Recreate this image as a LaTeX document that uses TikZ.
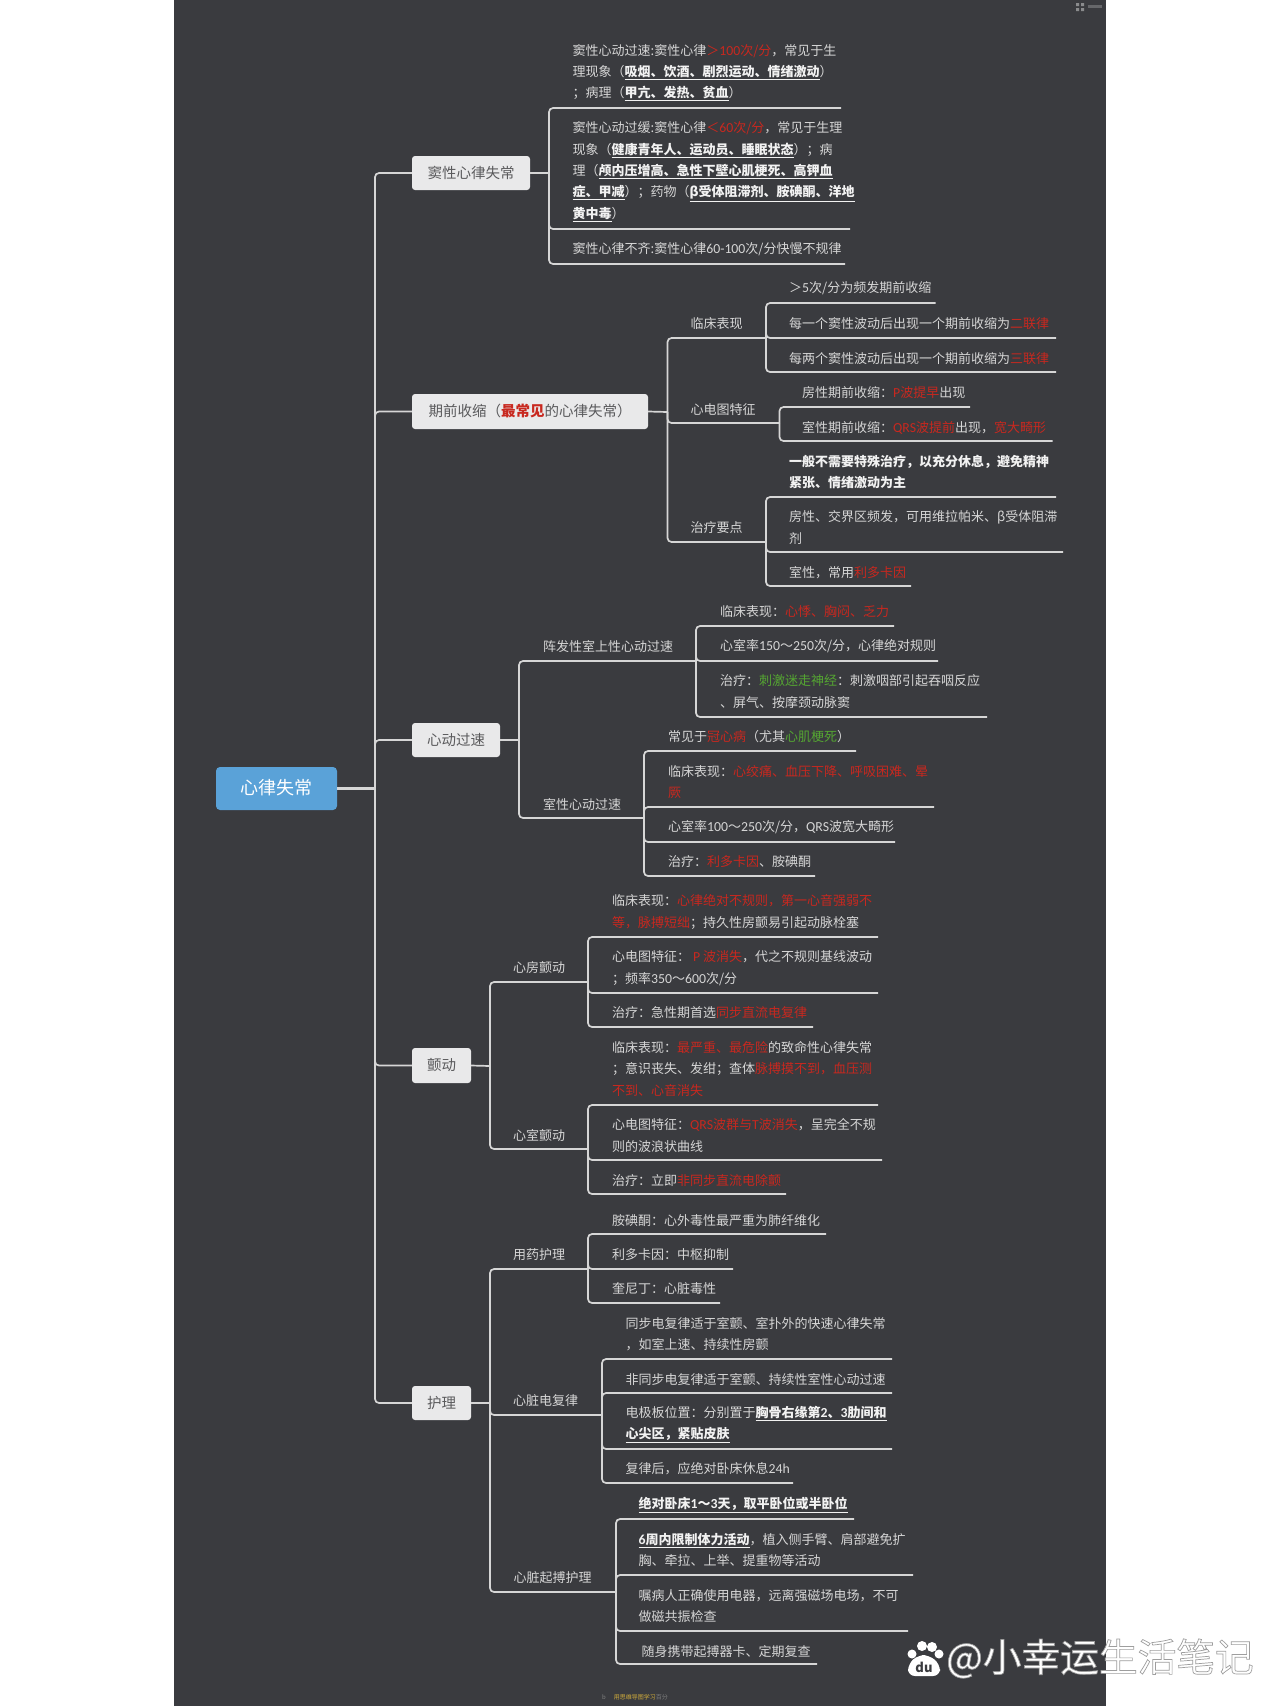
\documentclass[tikz,border=0pt]{standalone}
\usepackage{fontspec}
\setmainfont{Noto Sans CJK SC}
\newfontfamily\latnarrow{Carlito}[Scale=1.06]
\definecolor{bgdark}{HTML}{3A3B3F}
\definecolor{linec}{HTML}{D6D6D6}
\definecolor{txtc}{HTML}{D6D6D6}
\definecolor{boldc}{HTML}{F2F2F2}
\definecolor{redc}{HTML}{C8281F}
\definecolor{greenc}{HTML}{55A632}
\definecolor{topicc}{HTML}{E9E9EA}
\definecolor{topict}{HTML}{5A5A5C}
\definecolor{rootc}{HTML}{5AA2D8}
\definecolor{yelc}{HTML}{D0AC3C}
\definecolor{marka}{HTML}{8A8B8D}
\definecolor{markb}{HTML}{66676A}
\newcommand{\rd}[1]{\textcolor{redc}{#1}}
\newcommand{\gn}[1]{\textcolor{greenc}{#1}}
\newcommand{\bd}[1]{\textcolor{boldc}{\textbf{#1}}}
\newcommand{\bu}[1]{\textcolor{boldc}{\underline{\textbf{#1}}}}
\newcommand{\nm}[1]{{\latnarrow #1}}
\newcommand{\lift}[1]{\raisebox{1.5pt}{#1}}
\tikzset{
  txt/.style={anchor=west,inner sep=0pt,align=left,text=txtc,yshift=-0.6pt,font=\fontsize{13}{21.4}\selectfont},
  topic/.style={fill=topicc,rounded corners=3pt,inner sep=0pt,text=topict,font=\fontsize{14.5}{18}\selectfont},
  rootnode/.style={fill=rootc,rounded corners=4pt,inner sep=0pt,text=white,font=\fontsize{18}{22}\selectfont},
  conn/.style={draw=linec,line width=1.7pt,rounded corners=4pt},
  thick conn/.style={draw=linec,line width=2.8pt}
}
% name, junction, x, y of text, y of line, end x of line, text
\newcommand{\leaf}[7]{%
  \node[txt] (#1) at (#3,#4) {#7};
  \coordinate (#1-end) at (#6,#5);
  \draw[conn] (#2) |- (#1-end);
}
\begin{document}
\begin{tikzpicture}[x=1pt,y=-1pt]
\useasboundingbox (0,0) rectangle (1280,1706);
\fill[white] (0,0) rectangle (1280,1706);
\fill[bgdark] (174,0) rectangle (1106,1706);

% top right marks
\fill[marka] (1076,3) rectangle (1079,6) (1081,3) rectangle (1084,6) (1076,8) rectangle (1079,11) (1081,8) rectangle (1084,11);
\fill[markb] (1088,5) rectangle (1102,8);

% root and trunk
\node[rootnode,minimum width=121pt,minimum height=43pt] (root) at (276.5,788.5) {\raisebox{3.5pt}{心律失常}};
\coordinate (trunk) at (375,788.5);
\draw[thick conn] (root.east) -- (trunk);

\node[topic,minimum width=118pt,minimum height=34pt] (t1) at (471,173) {\lift{窦性心律失常}};
\node[topic,minimum width=236pt,minimum height=35pt] (t2) at (530,411.5) {\lift{期前收缩（\rd{\textbf{最常见}}的心律失常）}};
\node[topic,minimum width=88pt,minimum height=34pt] (t3) at (456,740) {\lift{心动过速}};
\node[topic,minimum width=59pt,minimum height=35pt] (t4) at (441.5,1065.5) {\lift{颤动}};
\node[topic,minimum width=59pt,minimum height=34pt] (t5) at (441.5,1403) {\lift{护理}};
\foreach \t in {t1,t2,t3,t4,t5} \draw[conn] (trunk) |- (\t.west);

% section 1
\coordinate (j1) at (549,173);
\draw[conn] (t1.east) -- (j1);
\leaf{a1}{j1}{572.5}{72}{108}{841}{窦性心动过速:窦性心律\rd{＞\nm{100}次/分}，常见于生\\理现象（\bu{吸烟、饮酒、剧烈运动、情绪激动}）\\；病理（\bu{甲亢、发热、贫血}）}
\leaf{a2}{j1}{572.5}{171}{229}{850}{窦性心动过缓:窦性心律\rd{＜\nm{60}次/分}，常见于生理\\现象（\bu{健康青年人、运动员、睡眠状态}）；病\\理（\bu{颅内压增高、急性下壁心肌梗死、高钾血}\\\bu{症、甲减}）；药物（\bu{β受体阻滞剂、胺碘酮、洋地}\\\bu{黄中毒}）}
\leaf{a3}{j1}{572.5}{249}{264}{845}{窦性心律不齐:窦性心律\nm{60-100}次/分快慢不规律}

% section 2
\coordinate (j2) at (667.5,412);
\draw[conn] (t2.east) -- (j2);
\leaf{b1}{j2}{690.5}{323}{338}{766}{临床表现}
\leaf{b11}{b1-end}{789}{288}{303}{935.5}{＞\nm{5}次/分为频发期前收缩}
\leaf{b12}{b1-end}{789}{323}{338}{1056}{每一个窦性波动后出现一个期前收缩为\rd{二联律}}
\leaf{b13}{b1-end}{789}{358}{372}{1056}{每两个窦性波动后出现一个期前收缩为\rd{三联律}}
\leaf{b2}{j2}{690.5}{409}{423}{779.5}{心电图特征}
\leaf{b21}{b2-end}{802}{392}{407}{970}{房性期前收缩：\rd{\nm{P}波提早}出现}
\leaf{b22}{b2-end}{802}{427}{441}{1052.5}{室性期前收缩：\rd{\nm{QRS}波提前}出现，\rd{宽大畸形}}
\leaf{b3}{j2}{690.5}{527}{542}{766}{治疗要点}
\leaf{b31}{b3-end}{789}{471.5}{497}{1056}{\bd{一般不需要特殊治疗，以充分休息，避免精神}\\\bd{紧张、情绪激动为主}}
\leaf{b32}{b3-end}{789}{527}{552}{1063}{房性、交界区频发，可用维拉帕米、β受体阻滞\\剂}
\leaf{b33}{b3-end}{789}{572}{586}{911}{室性，常用\rd{利多卡因}}

% section 3
\coordinate (j3) at (519,740);
\draw[conn] (t3.east) -- (j3);
\leaf{c1}{j3}{543}{646}{661}{696}{阵发性室上性心动过速}
\leaf{c11}{c1-end}{720}{611}{626}{894}{临床表现：\rd{心悸、胸闷、乏力}}
\leaf{c12}{c1-end}{720}{646}{661}{938}{心室率\nm{150}～\nm{250}次/分，心律绝对规则}
\leaf{c13}{c1-end}{720}{691}{717}{987}{治疗：\gn{刺激迷走神经}：刺激咽部引起吞咽反应\\、屏气、按摩颈动脉窦}
\leaf{c2}{j3}{543}{804}{818}{644}{室性心动过速}
\leaf{c21}{c2-end}{668}{736}{751}{856}{常见于\rd{冠心病}（尤其\gn{心肌梗死}）}
\leaf{c22}{c2-end}{668}{781.5}{807}{934}{临床表现：\rd{心绞痛、血压下降、呼吸困难、晕}\\\rd{厥}}
\leaf{c23}{c2-end}{668}{827}{842}{895}{心室率\nm{100}～\nm{250}次/分，\nm{QRS}波宽大畸形}
\leaf{c24}{c2-end}{668}{861}{876}{815}{治疗：\rd{利多卡因}、胺碘酮}

% section 4
\coordinate (j4) at (490,1066);
\draw[conn] (t4.east) -- (j4);
\leaf{d1}{j4}{513}{967}{982}{588}{心房颤动}
\leaf{d11}{d1-end}{612}{911.5}{937}{878}{临床表现：\rd{心律绝对不规则，第一心音强弱不}\\\rd{等，脉搏短绌}；持久性房颤易引起动脉栓塞}
\leaf{d12}{d1-end}{612}{967.5}{993}{878}{心电图特征： \rd{\nm{P} 波消失}，代之不规则基线波动\\；频率\nm{350}～\nm{600}次/分}
\leaf{d13}{d1-end}{612}{1012}{1027}{813}{治疗：急性期首选\rd{同步直流电复律}}
\leaf{d2}{j4}{513}{1135}{1149}{588}{心室颤动}
\leaf{d21}{d2-end}{612}{1068}{1105}{878}{临床表现：\rd{最严重、最危险}的致命性心律失常\\；意识丧失、发绀；查体\rd{脉搏摸不到，血压测}\\\rd{不到、心音消失}}
\leaf{d22}{d2-end}{612}{1135}{1160}{882}{心电图特征：\rd{\nm{QRS}波群与\nm{T}波消失}，呈完全不规\\则的波浪状曲线}
\leaf{d23}{d2-end}{612}{1180}{1194}{786}{治疗：立即\rd{非同步直流电除颤}}

% section 5
\coordinate (j5) at (490,1403);
\draw[conn] (t5.east) -- (j5);
\leaf{e1}{j5}{513}{1254}{1269}{588}{用药护理}
\leaf{e11}{e1-end}{612}{1220}{1234}{826}{胺碘酮：心外毒性最严重为肺纤维化}
\leaf{e12}{e1-end}{612}{1254}{1269}{733}{利多卡因：中枢抑制}
\leaf{e13}{e1-end}{612}{1288}{1303}{720}{奎尼丁：心脏毒性}
\leaf{e2}{j5}{513}{1400}{1415}{602}{心脏电复律}
\leaf{e21}{e2-end}{625.5}{1333.5}{1359}{892}{同步电复律适于室颤、室扑外的快速心律失常\\，如室上速、持续性房颤}
\leaf{e22}{e2-end}{625.5}{1379}{1393}{892}{非同步电复律适于室颤、持续性室性心动过速}
\leaf{e23}{e2-end}{625.5}{1423.5}{1449}{892}{电极板位置：分别置于\bu{胸骨右缘第\nm{2}、\nm{3}肋间和}\\\bu{心尖区，紧贴皮肤}}
\leaf{e24}{e2-end}{625.5}{1468}{1483}{793}{复律后，应绝对卧床休息\nm{24h}}
\leaf{e3}{j5}{513.5}{1577}{1592}{616}{心脏起搏护理}
\leaf{e31}{e3-end}{638.5}{1504}{1519}{854}{\bu{绝对卧床\nm{1}～\nm{3}天，取平卧位或半卧位}}
\leaf{e32}{e3-end}{638.5}{1549.5}{1575}{913}{\bu{\nm{6}周内限制体力活动}，植入侧手臂、肩部避免扩\\胸、牵拉、上举、提重物等活动}
\leaf{e33}{e3-end}{638.5}{1605.5}{1631}{908}{嘱病人正确使用电器，远离强磁场电场，不可\\做磁共振检查}
\leaf{e34}{e3-end}{641.5}{1651}{1664}{817}{随身携带起搏器卡、定期复查}

% footer
\node[anchor=west,inner sep=0pt,font=\fontsize{6}{7}\selectfont,text=gray] (foot) at (602,1697) {b\hspace{8pt}\textcolor{yelc}{用思维导图学习}百分};

% watermark
\fill[white] (912,1654) circle (4.5) (922,1646) circle (5) (932,1647) circle (5) (939,1654) circle (4.5);
\fill[white,rounded corners=7pt] (908,1676) -- (908,1664) -- (918,1655) -- (929,1655) -- (940,1664) -- (940,1676) -- cycle;
\node[inner sep=0pt,font=\fontsize{13}{14}\selectfont\bfseries,text=bgdark] (du) at (924,1667) {du};
\node[anchor=west,inner sep=0pt,text=white,font=\fontsize{38.7}{42}\selectfont] (mark) at (946,1658.5) {\special{pdf:code 0.62 0.62 0.62 RG 0.7 w 2 Tr}@小幸运生活笔记\special{pdf:code 0 Tr}};
\end{tikzpicture}
\end{document}
